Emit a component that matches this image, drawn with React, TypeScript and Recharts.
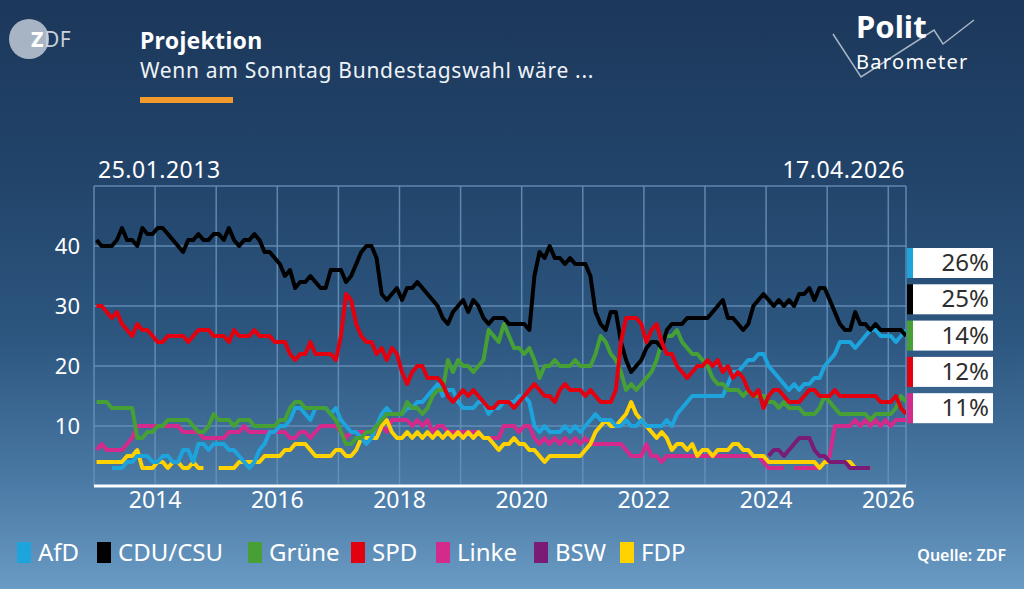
import React from "react";
import { LineChart, Line, XAxis, YAxis, CartesianGrid } from "recharts";

// Monthly time points (Jan 2013 .. Apr 2026)
const months = [
  "2013-01","2013-02","2013-03","2013-04","2013-05","2013-06","2013-07","2013-08","2013-09","2013-10","2013-11","2013-12",
  "2014-01","2014-02","2014-03","2014-04","2014-05","2014-06","2014-07","2014-08","2014-09","2014-10","2014-11","2014-12",
  "2015-01","2015-02","2015-03","2015-04","2015-05","2015-06","2015-07","2015-08","2015-09","2015-10","2015-11","2015-12",
  "2016-01","2016-02","2016-03","2016-04","2016-05","2016-06","2016-07","2016-08","2016-09","2016-10","2016-11","2016-12",
  "2017-01","2017-02","2017-03","2017-04","2017-05","2017-06","2017-07","2017-08","2017-09","2017-10","2017-11","2017-12",
  "2018-01","2018-02","2018-03","2018-04","2018-05","2018-06","2018-07","2018-08","2018-09","2018-10","2018-11","2018-12",
  "2019-01","2019-02","2019-03","2019-04","2019-05","2019-06","2019-07","2019-08","2019-09","2019-10","2019-11","2019-12",
  "2020-01","2020-02","2020-03","2020-04","2020-05","2020-06","2020-07","2020-08","2020-09","2020-10","2020-11","2020-12",
  "2021-01","2021-02","2021-03","2021-04","2021-05","2021-06","2021-07","2021-08","2021-09","2021-10","2021-11","2021-12",
  "2022-01","2022-02","2022-03","2022-04","2022-05","2022-06","2022-07","2022-08","2022-09","2022-10","2022-11","2022-12",
  "2023-01","2023-02","2023-03","2023-04","2023-05","2023-06","2023-07","2023-08","2023-09","2023-10","2023-11","2023-12",
  "2024-01","2024-02","2024-03","2024-04","2024-05","2024-06","2024-07","2024-08","2024-09","2024-10","2024-11","2024-12",
  "2025-01","2025-02","2025-03","2025-04","2025-05","2025-06","2025-07","2025-08","2025-09","2025-10","2025-11","2025-12",
  "2026-01","2026-02","2026-03","2026-04",
];

const cdu = [
  41,40,40,40,41,43,41,41,40,43,
  42,42,43,43,42,41,40,39,41,41,
  42,41,41,42,42,41,43,41,40,41,
  41,42,41,39,39,38,37,35,36,33,
  34,34,35,34,33,33,36,36,36,34,
  35,37,39,40,40,38,32,31,32,33,
  31,33,33,34,33,32,31,30,28,27,
  29,30,31,29,31,30,28,27,28,28,
  28,27,27,27,27,26,35,39,38,40,
  38,38,37,38,37,37,37,35,29,27,
  26,29,29,24,21,19,20,21,23,24,
  24,23,26,27,27,27,28,28,28,28,
  28,29,30,31,28,28,27,26,27,30,
  31,32,31,30,31,30,31,30,32,32,
  33,31,33,33,31,29,27,26,26,29,
  27,27,26,27,26,26,26,26,26,25,
];

const spd = [
  30,30,29,28,29,27,26,25,27,26,
  26,25,24,24,25,25,25,25,24,25,
  26,26,26,25,25,25,24,26,25,25,
  25,26,25,25,25,24,24,24,22,21,
  22,22,24,22,22,22,22,21,25,32,
  31,27,25,24,24,22,23,21,23,22,
  19,17,19,20,20,18,18,18,17,15,
  14,15,16,15,16,15,14,13,13,14,
  14,14,13,14,15,16,17,16,15,15,
  14,16,17,16,16,16,15,16,15,14,
  14,14,16,24,28,28,28,27,24,26,
  27,24,22,22,20,19,18,19,20,20,
  21,20,21,19,20,18,19,18,16,15,
  16,13,15,16,16,15,14,14,14,15,
  16,16,15,15,15,16,15,15,15,15,
  15,15,15,15,14,14,14,15,13,12,
];

const gruene = [
  14,14,14,13,13,13,13,13,8,8,
  9,9,10,10,11,11,11,11,11,10,
  9,9,10,12,11,11,11,10,11,11,
  11,10,10,10,10,10,11,11,13,14,
  14,13,13,13,13,13,12,11,9,7,
  7,8,8,9,9,10,11,12,12,12,
  12,14,13,13,12,13,15,16,16,21,
  19,21,20,20,19,20,21,26,25,24,
  27,25,23,23,22,23,21,18,20,20,
  21,20,20,20,21,20,20,20,22,25,
  24,22,21,19,16,17,16,17,18,19,
  21,24,25,25,26,24,23,22,22,21,
  20,18,17,17,16,16,16,15,16,15,
  15,15,14,14,13,14,13,13,13,12,
  12,12,13,15,14,13,12,12,12,12,
  12,12,11,12,12,12,12,13,15,14,
];

const afd = [
  null,null,null,3,3,3,4,4,5,5,
  5,4,4,5,5,4,4,6,6,4,
  7,7,6,7,7,7,6,6,5,4,
  3,4,6,7,9,9,10,10,11,13,
  13,12,11,13,13,13,12,13,11,10,
  9,9,8,7,8,10,12,13,12,12,
  12,13,13,14,14,15,16,17,15,16,
  16,14,13,13,13,14,14,12,13,13,
  14,14,14,15,15,14,10,9,10,9,
  9,9,10,9,10,9,10,11,12,11,
  11,11,10,10,11,10,10,11,10,10,
  10,10,11,10,12,13,14,15,15,15,
  15,15,15,15,17,19,19,20,21,21,
  22,22,20,19,18,17,16,17,16,17,
  17,18,18,20,21,22,24,24,24,23,
  24,25,26,26,25,25,25,24,25,26,
];

const linke = [
  6,7,6,6,6,6,7,8,10,10,
  10,10,10,10,10,10,10,9,9,9,
  9,8,8,8,8,8,9,9,9,10,
  9,9,9,9,9,9,9,9,8,8,
  9,9,8,9,10,10,10,10,9,8,
  9,9,9,9,9,9,10,9,11,11,
  11,11,10,11,10,11,9,10,10,9,
  9,9,9,9,9,9,8,8,8,8,
  10,10,10,9,10,10,8,7,8,7,
  8,7,8,7,8,7,8,7,7,7,
  7,7,7,7,6,5,5,5,7,5,
  5,4,5,5,5,5,5,5,5,5,
  5,5,5,5,5,5,5,5,5,5,
  5,4,3,3,3,3,null,3,3,3,
  3,3,3,4,5,10,10,10,10,11,
  10,11,10,11,10,11,10,11,11,11,
];

const fdp = [
  4,4,4,4,4,4,5,5,6,3,
  3,3,4,4,3,4,4,3,3,4,
  3,3,null,null,3,3,3,3,4,4,
  4,4,4,5,5,5,5,6,6,7,
  7,7,6,5,5,5,5,6,6,5,
  5,6,8,8,8,8,10,11,9,8,
  8,9,8,9,8,9,8,9,8,9,
  8,9,8,9,8,9,8,8,7,6,
  7,7,8,7,7,6,6,5,4,5,
  5,5,5,5,5,5,6,7,9,10,
  11,10,10,11,12,14,12,11,10,9,
  8,9,8,6,7,7,6,7,5,6,
  6,5,6,6,6,7,7,6,6,5,
  5,5,4,4,4,4,4,4,4,4,
  4,4,3,4,4,4,4,4,4,3,
  null,3,3,null,null,null,null,null,null,null,
];

// BSW exists only from 2024
const bswMonths = [
  "2024-01","2024-02","2024-03","2024-04","2024-05","2024-06","2024-07","2024-08","2024-09","2024-10","2024-11","2024-12",
  "2025-01","2025-02","2025-03","2025-04","2025-05","2025-06","2025-07","2025-08","2025-09",
];
const bsw = [5,6,6,5,6,7,8,8,8,6,5,5,4,4,4,4,3,3,3,3,3];

const yearTicks = [2013,2014,2015,2016,2017,2018,2019,2020,2021,2022,2023,2024,2025,2026];
const valueTicks = [10, 20, 30, 40];

const parties = [
  { key: "afd", name: "AfD", color: "#1ea4dc" },
  { key: "cdu", name: "CDU/CSU", color: "#000000" },
  { key: "gruene", name: "Grüne", color: "#46a036" },
  { key: "spd", name: "SPD", color: "#e3000f" },
  { key: "linke", name: "Linke", color: "#d42a8c" },
  { key: "bsw", name: "BSW", color: "#7a1b77" },
  { key: "fdp", name: "FDP", color: "#ffd200" },
];
const colorOf = (k: string) => parties.find((p) => p.key === k)!.color;

const endKeys = ["afd", "cdu", "gruene", "spd", "linke"];
const endValues = [26, 25, 14, 12, 11];

const startLabel = "25.01.2013";
const endLabel = "17.04.2026";

const toT = (s: string) => {
  const [y, m] = s.split("-").map(Number);
  return y + (m - 0.5) / 12;
};

const rows = months.map((m, i) => ({
  t: toT(m),
  afd: afd[i],
  cdu: cdu[i],
  gruene: gruene[i],
  spd: spd[i],
  linke: linke[i],
  fdp: fdp[i],
}));
const bswRows = bswMonths.map((m, i) => ({ t: toT(m), bsw: bsw[i] }));

const FONT = "'Noto Sans', 'DejaVu Sans', sans-serif";

const XTick = (props: any) => {
  const { x, y, payload } = props;
  if (payload.value % 2 !== 0) return <g />;
  return (
    <text x={x} y={y + 22} textAnchor="middle" fill="#ffffff" fontSize={23} fontFamily={FONT}>
      {payload.value}
    </text>
  );
};

const YTick = (props: any) => {
  const { y, payload } = props;
  return (
    <text x={80} y={y + 8} textAnchor="end" fill="#ffffff" fontSize={22} fontFamily={FONT}>
      {payload.value}
    </text>
  );
};

const lineOrder = ["linke", "fdp", "afd", "gruene", "cdu", "spd"];

const seriesLine = (k: string) => (
  <Line
    key={k}
    dataKey={k}
    type="linear"
    stroke={colorOf(k)}
    strokeWidth={4}
    strokeLinejoin="round"
    dot={false}
    activeDot={false}
    isAnimationActive={false}
  />
);

export default function App() {
  const legendXs = [17, 97, 248, 351, 436, 534, 620];
  return (
    <div
      style={{
        position: "absolute",
        left: 0,
        top: 0,
        width: 1024,
        height: 589,
        overflow: "hidden",
        background:
          "linear-gradient(180deg, #1c385b 0%, #22446a 30%, #2d5780 58%, #4a7aa5 82%, #6a9bc4 100%)",
        fontFamily: FONT,
      }}
    >
      <div style={{ position: "absolute", left: 0, top: 0 }}>
        <LineChart
          width={1024}
          height={589}
          data={rows}
          margin={{ top: 186, right: 118, bottom: 0, left: 0 }}
        >
          <CartesianGrid stroke="#6893bb" strokeWidth={1.5} strokeOpacity={0.85} />
          <XAxis
            dataKey="t"
            type="number"
            domain={[2013, 2026.29]}
            ticks={yearTicks}
            allowDataOverflow
            height={103}
            axisLine={{ stroke: "#ffffff", strokeWidth: 3 }}
            tickLine={false}
            tickSize={0}
            tickMargin={0}
            tick={<XTick />}
            interval={0}
          />
          <YAxis
            type="number"
            domain={[0, 50]}
            ticks={valueTicks}
            width={94}
            axisLine={false}
            tickLine={false}
            tickSize={0}
            tickMargin={0}
            tick={<YTick />}
            interval={0}
          />
          {lineOrder.slice(0, 2).map(seriesLine)}
          <Line
            data={bswRows}
            dataKey="bsw"
            type="linear"
            stroke={colorOf("bsw")}
            strokeWidth={4}
            strokeLinejoin="round"
            dot={false}
            activeDot={false}
            isAnimationActive={false}
          />
          {lineOrder.slice(2).map(seriesLine)}
        </LineChart>
      </div>

      <svg
        width={1024}
        height={589}
        style={{ position: "absolute", left: 0, top: 0, pointerEvents: "none" }}
        fontFamily={FONT}
      >
        {/* ZDF logo */}
        <circle cx={29} cy={39} r={20} fill="#b7c2ce" opacity={0.9} />
        <text x={31} y={47} fontSize={21} fontWeight={800} fill="#ffffff" letterSpacing={0.5}>
          Z<tspan fill="#c7d1db" fontWeight={400}>DF</tspan>
        </text>

        {/* Politbarometer logo */}
        <polyline
          points="833,34 861,77 934,30 943,44 974,20"
          fill="none"
          stroke="#a9b6c4"
          strokeWidth={1.5}
        />
        <text x={856} y={38} fontSize={31} fontWeight={700} fill="#ffffff">
          Polit
        </text>
        <text x={856} y={69} fontSize={20} fill="#ffffff" letterSpacing={1.3}>
          Barometer
        </text>

        {/* Title */}
        <text x={140} y={49} fontSize={23} fontWeight={700} fill="#ffffff" letterSpacing={0.3}>
          Projektion
        </text>
        <text x={140} y={78} fontSize={21} fill="#eef3f8" letterSpacing={0.7}>
          Wenn am Sonntag Bundestagswahl wäre ...
        </text>
        <rect x={140} y={97} width={93} height={6} fill="#f39a2e" />

        {/* Date range */}
        <text x={98} y={178} fontSize={23} fill="#ffffff" letterSpacing={0.5}>
          {startLabel}
        </text>
        <text x={905} y={178} fontSize={23} fill="#ffffff" textAnchor="end" letterSpacing={0.5}>
          {endLabel}
        </text>

        {/* End value boxes */}
        {endKeys.map((k, i) => {
          const top = 248 + i * 36.3;
          return (
            <g key={k}>
              <rect x={907} y={top} width={6} height={30} fill={colorOf(k)} />
              <rect x={913} y={top} width={80} height={30} fill="#ffffff" />
              <text x={989} y={top + 23} fontSize={24} fill="#2e2e2e" textAnchor="end">
                {endValues[i]}%
              </text>
            </g>
          );
        })}

        {/* Legend */}
        {parties.map((p, i) => (
          <g key={p.key}>
            <rect x={legendXs[i]} y={542} width={14} height={21} fill={p.color} />
            <text x={legendXs[i] + 21} y={561} fontSize={24} fill="#ffffff">
              {p.name}
            </text>
          </g>
        ))}
        <text x={1006} y={561} fontSize={16} fontWeight={600} fill="#ffffff" textAnchor="end">
          Quelle: ZDF
        </text>
      </svg>
    </div>
  );
}
